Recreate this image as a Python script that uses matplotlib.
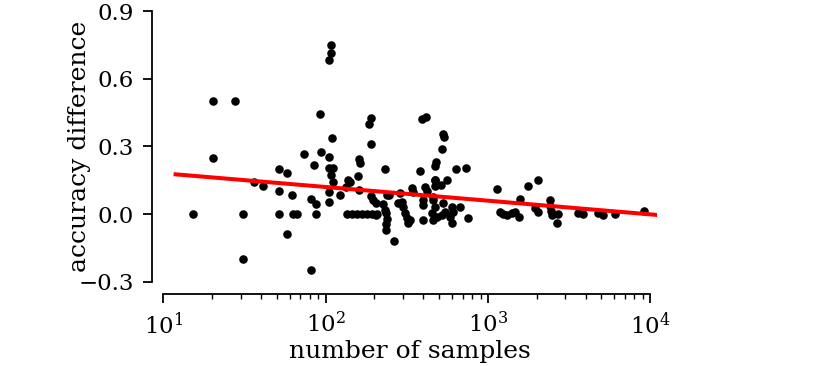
import numpy as np
import matplotlib
matplotlib.use("Agg")
import matplotlib.pyplot as plt

plt.rcParams['font.family'] = ['DejaVu Serif']
plt.rcParams['mathtext.fontset'] = 'dejavuserif'

# number of samples per dataset (x) and accuracy difference (y)
n_samples = [15.2, 20.3, 20.3, 27.8, 30.8, 30.8, 36.1, 41.3, 51.6, 51.6,
             51.6, 57.8, 57.8, 62.4, 62.8, 67.0, 73.6, 80.9, 80.9, 85.1,
             87.2, 87.2, 92.4, 93.3, 104.5, 108.4, 108.4, 104.5, 109.4, 104.5,
             111.4, 108.4, 111.4, 104.5, 104.5, 122.7, 133, 137, 141, 157.8,
             160.7, 163.7, 161.4, 136, 146, 157, 168, 181, 194, 208,
             190.4, 184.3, 190.4, 190.4, 196.8, 203.7, 204.4, 232.3, 238, 226.7,
             232.3, 235, 238, 235.5, 235.5, 264, 287, 280, 246, 294,
             301, 308, 316, 324, 331, 339, 347, 409, 420, 382,
             391, 416, 396, 400, 400, 461, 461, 472, 451, 484,
             461, 472, 472, 515, 562, 635, 729, 476, 472, 531,
             536, 521, 475, 531, 544, 519, 598, 612, 584, 598,
             673, 757, 1132, 1775, 2045, 1578, 2413, 1187, 1233, 1305,
             1402, 1469, 1561, 1950, 2045, 2413, 2437, 2473, 2716, 2679,
             3606, 3873, 4790, 5140, 6067, 9200]
acc_diff = [0.000, 0.500, 0.250, 0.500, 0.000, -0.200, 0.143, 0.124, 0.200, 0.100,
            0.000, 0.182, -0.090, 0.083, 0.000, 0.000, 0.267, 0.066, -0.250, 0.216,
            0.043, 0.000, 0.445, 0.276, 0.681, 0.712, 0.750, 0.251, 0.335, 0.204,
            0.204, 0.172, 0.143, 0.096, 0.052, 0.084, 0.118, 0.150, 0.143, 0.168,
            0.245, 0.225, 0.106, 0.000, 0.000, 0.000, 0.000, 0.000, 0.000, 0.000,
            0.424, 0.398, 0.309, 0.080, 0.062, 0.050, -0.004, 0.200, 0.086, 0.044,
            0.018, 0.003, -0.024, -0.045, -0.071, -0.120, 0.092, 0.047, 0.084, 0.055,
            0.032, 0.003, -0.019, -0.041, -0.027, 0.114, 0.099, 0.121, 0.103, 0.190,
            0.420, 0.431, 0.062, 0.040, -0.027, 0.077, 0.062, 0.032, 0.003, -0.012,
            -0.027, 0.151, 0.124, 0.128, 0.153, 0.198, 0.203, 0.232, 0.213, 0.353,
            0.340, 0.287, 0.153, 0.047, 0.010, -0.004, 0.032, 0.010, -0.012, -0.041,
            0.032, -0.016, 0.109, 0.125, 0.151, 0.066, 0.062, 0.010, 0.000, -0.004,
            0.003, 0.010, -0.012, 0.025, 0.010, 0.035, 0.015, -0.004, 0.000, -0.041,
            0.006, 0.000, 0.003, -0.004, 0.000, 0.013]

# regression line end points
fit_x = [11.9, 11000]
fit_y = [0.176, -0.004]

y_ticks = [-0.3, 0.0, 0.3, 0.6, 0.9]
x_ticks = [10, 100, 1000, 10000]

fig = plt.figure(figsize=(8.22, 3.66), dpi=100)
ax = fig.add_axes([0.1987, 0.2303, 0.6005, 0.7396])

ax.scatter(n_samples, acc_diff, s=38, color='black', linewidths=0, zorder=2)
ax.plot(fit_x, fit_y, color='red', linewidth=2.9, zorder=3)

ax.set_xscale('log')
ax.set_xlim(10, 11000)
ax.set_ylim(-0.3, 0.9)
ax.set_xticks(x_ticks)
ax.set_yticks(y_ticks)

ax.spines['top'].set_visible(False)
ax.spines['right'].set_visible(False)
ax.spines['left'].set_position(('outward', 8.1))
ax.spines['bottom'].set_position(('outward', 8.9))
ax.spines['left'].set_bounds(-0.3, 0.9)
ax.spines['bottom'].set_bounds(10, 10000)
for s in ['left', 'bottom']:
    ax.spines[s].set_linewidth(1.3)

ax.tick_params(which='major', length=6.5, width=1.3, labelsize=16.5, pad=6.5)
ax.tick_params(which='minor', length=3.6, width=1.0)

ax.set_xlabel('number of samples', fontsize=18, labelpad=1)
ax.set_ylabel('accuracy difference', fontsize=18)
ax.yaxis.set_label_coords(-0.147, 0.5)

fig.savefig('out.png', dpi=100)
